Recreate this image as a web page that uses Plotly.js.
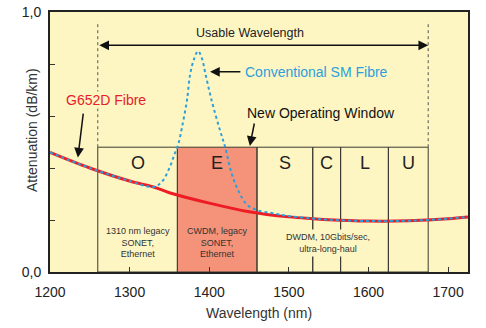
<!DOCTYPE html>
<html>
<head>
<meta charset="utf-8">
<script src="https://cdn.plot.ly/plotly-3.0.1.min.js"></script>
<style>html,body{margin:0;padding:0;background:#fff;}#chart{width:486px;height:328px;}</style>
</head>
<body>
<div id="chart"></div>
<script>
// G652D fibre attenuation (dB/km)
const g652Wl  = [1200, 1250, 1300, 1330, 1350, 1400, 1450, 1500, 1530, 1550, 1600, 1650, 1700, 1725];
const g652Att = [0.46, 0.40, 0.35, 0.327, 0.305, 0.265, 0.232, 0.212, 0.205, 0.201, 0.196, 0.197, 0.205, 0.212];
// Conventional SM fibre (water peak)
const smWl  = [1200, 1250, 1300, 1330, 1340, 1350, 1356, 1361, 1366, 1372, 1376, 1381, 1386, 1391, 1395, 1403, 1413, 1420, 1428, 1437, 1447, 1460, 1480, 1500, 1530, 1550, 1600, 1650, 1700, 1725];
const smAtt = [0.46, 0.40, 0.35, 0.327, 0.345, 0.40, 0.45, 0.49, 0.56, 0.66, 0.76, 0.82, 0.85, 0.82, 0.765, 0.66, 0.55, 0.48, 0.38, 0.31, 0.26, 0.238, 0.226, 0.215, 0.206, 0.201, 0.196, 0.197, 0.205, 0.212];
// Bands
const bandNames = ["O", "E", "S", "C", "L", "U"];
const bandStart = [1260, 1360, 1460, 1530, 1565, 1625];
const bandEnd   = [1360, 1460, 1530, 1565, 1625, 1675];
const bandTop = 0.48;
const usableRange = [1260, 1675];
const xTicks = [1200, 1300, 1400, 1500, 1600, 1700];
const yTicks = [0, 0.2, 0.4, 0.6, 0.8, 1.0];
const yTickText = ["0,0", "", "", "", "", "1,0"];

const FONT = "Liberation Sans, Arial, sans-serif";
const BG = "#fdf6c3";
const shapes = [];
const annotations = [];
bandNames.forEach((n, i) => {
  shapes.push({type: "rect", xref: "x", yref: "y", x0: bandStart[i], x1: bandEnd[i], y0: 0, y1: bandTop,
    fillcolor: n === "E" ? "#f4937a" : "rgba(0,0,0,0)", line: {color: "#3a3a30", width: 1}, layer: "below"});
  annotations.push({x: (bandStart[i] + bandEnd[i]) / 2, y: 0.42, xref: "x", yref: "y", text: n, showarrow: false,
    font: {family: FONT, size: 18, color: "#222"}});
});
usableRange.forEach(v => shapes.push({type: "line", xref: "x", yref: "y", x0: v, x1: v, y0: bandTop, y1: 0.965,
  line: {color: "#555", width: 1, dash: "dot"}, layer: "below"}));

const small = {family: FONT, size: 9, color: "#333"};
annotations.push(
  {x: 1310, y: 0.112, text: "1310 nm legacy<br>SONET,<br>Ethernet", showarrow: false, font: small},
  {x: 1410, y: 0.112, text: "CWDM, legacy<br>SONET,<br>Ethernet", showarrow: false, font: small},
  {x: 1549, y: 0.112, text: "DWDM, 10Gbits/sec,<br>ultra-long-haul", showarrow: false, font: small, bgcolor: BG, borderpad: 2},
  {x: 1451, y: 0.92, text: "Usable Wavelength", showarrow: false, font: {family: FONT, size: 12.5, color: "#222"}},
  {x: usableRange[1], y: 0.872, ax: usableRange[0], ay: 0.872, axref: "x", ayref: "y", text: "", showarrow: true,
    arrowhead: 2, startarrowhead: 2, arrowside: "end+start", arrowsize: 1.3, arrowwidth: 1.5, arrowcolor: "#111"},
  {x: 1270, y: 0.66, text: "G652D Fibre", showarrow: false, xanchor: "center", bgcolor: BG, borderpad: 0,
    font: {family: FONT, size: 14, color: "#e8202a"}},
  {x: 1235, y: 0.44, ax: 1242, ay: 0.615, axref: "x", ayref: "y", text: "", showarrow: true,
    arrowhead: 2, arrowsize: 1.3, arrowwidth: 1.5, arrowcolor: "#111"},
  {x: 1443, y: 0.77, text: "Conventional SM Fibre", showarrow: false, xanchor: "left", font: {family: FONT, size: 14, color: "#2b9fdc"}},
  {x: 1401, y: 0.77, ax: 1441, ay: 0.77, axref: "x", ayref: "y", text: "", showarrow: true,
    arrowhead: 2, arrowsize: 1.3, arrowwidth: 1.5, arrowcolor: "#111"},
  {x: 1445, y: 0.61, text: "New Operating Window", showarrow: false, xanchor: "left", font: {family: FONT, size: 14, color: "#111"}},
  {x: 1451, y: 0.485, ax: 1457, ay: 0.577, axref: "x", ayref: "y", text: "", showarrow: true,
    arrowhead: 2, arrowsize: 1.3, arrowwidth: 1.5, arrowcolor: "#111"},
  {xref: "paper", yref: "paper", x: -0.067, y: 0.546, text: "Attenuation (dB/km)", textangle: -90, showarrow: false,
    font: {family: FONT, size: 14, color: "#333"}},
  {xref: "paper", yref: "paper", x: 0.5, y: -0.158, yanchor: "middle", text: "Wavelength (nm)", showarrow: false,
    font: {family: FONT, size: 14, color: "#333"}}
);

const data = [
  {x: g652Wl, y: g652Att, mode: "lines", line: {color: "#ee1c24", width: 3, shape: "spline"}, hoverinfo: "skip"},
  {x: smWl, y: smAtt, mode: "lines", line: {color: "#2b9fdc", width: 2, dash: "dot", shape: "spline"}, hoverinfo: "skip"}
];

const layout = {
  width: 486, height: 328,
  margin: {l: 50, r: 18, t: 12, b: 56},
  paper_bgcolor: "#ffffff", plot_bgcolor: BG,
  showlegend: false,
  font: {family: FONT, size: 14, color: "#222"},
  xaxis: {range: [1200, 1725], tickvals: xTicks, ticks: "inside", ticklen: 5, tickcolor: "#333",
    showline: true, linecolor: "#222", linewidth: 2, mirror: true, showgrid: false, zeroline: false,
    ticklabelstandoff: 6,
    tickfont: {family: FONT, size: 14, color: "#222"}},
  yaxis: {range: [0, 1], tickvals: yTicks, ticktext: yTickText, ticks: "inside", ticklen: 5, tickcolor: "#333",
    showline: true, linecolor: "#222", linewidth: 2, mirror: true, showgrid: false, zeroline: false,
    ticklabelstandoff: 4,
    tickfont: {family: FONT, size: 14, color: "#222"}},
  shapes: shapes, annotations: annotations
};
Plotly.newPlot("chart", data, layout, {displayModeBar: false, staticPlot: true});
</script>
</body>
</html>
